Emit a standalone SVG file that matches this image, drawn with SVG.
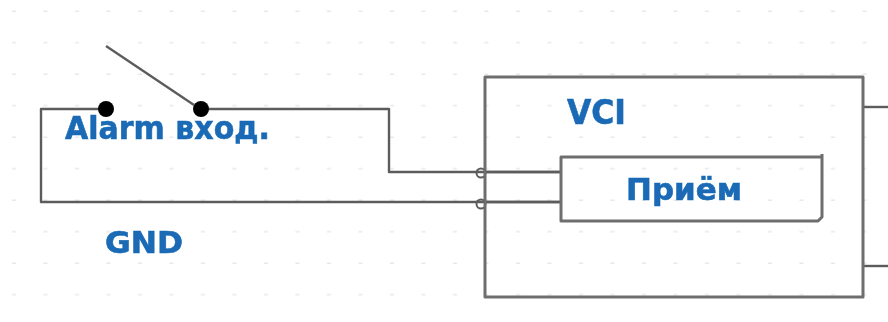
<svg xmlns="http://www.w3.org/2000/svg" width="888" height="322" viewBox="0 0 888 322">
<style>
.w{fill:none;stroke:#5c5c5c;stroke-width:2.4;stroke-linejoin:round}
.b{fill:none;stroke:#6e6e6e;stroke-width:3;stroke-linejoin:round}
.d{fill:#000}
.t{font-family:"DejaVu Sans",Verdana,sans-serif;font-weight:700;fill:#1a6bb5;stroke:#1a6bb5;stroke-width:0.6}
.g{fill:#e8e8e8}
</style>
<defs>
<pattern id="dots" width="31.5" height="31.5" patternUnits="userSpaceOnUse" x="0" y="12"><rect x="12" y="30" width="4" height="3" class="g"/></pattern>
<filter id="soft" x="-5%" y="-5%" width="110%" height="110%"><feGaussianBlur stdDeviation="0.7"/></filter>
</defs>
<rect width="888" height="322" fill="#fff"/>
<rect x="0" y="10" width="888" height="300" fill="url(#dots)"/>
<g filter="url(#soft)">
<g id="connectors">
<path class="w" d="M106 109H41V202H560"/>
<path class="w" d="M201 109H389V172H560"/>
<path class="w" d="M106 46L194 105"/>
<path class="w" d="M863 107H888"/>
<path class="w" d="M863 266H888"/>
<circle cx="481" cy="173" r="4.5" fill="#fff" stroke="#5c5c5c" stroke-width="2"/>
<circle cx="481" cy="204" r="4.5" fill="#fff" stroke="#5c5c5c" stroke-width="2"/>
<path class="w" d="M476 172H560M476 202H560"/>
</g>
<g id="vci"><rect class="b" x="485" y="77" width="378" height="220"/><text class="t" x="567" y="124" font-size="33" textLength="59" lengthAdjust="spacingAndGlyphs">VCI</text></g>
<g id="priem"><path class="b" d="M822 154V217L818 221H561V157H822"/><text class="t" x="626" y="200" font-size="31" textLength="116" lengthAdjust="spacingAndGlyphs">Приём</text></g>
<g id="switch-left"><circle class="d" cx="106" cy="109" r="8"/></g>
<g id="switch-right"><circle class="d" cx="201" cy="109" r="8"/></g>
<g id="alarm"><text class="t" x="65" y="139" font-size="32" textLength="205" lengthAdjust="spacingAndGlyphs">Alarm вход.</text></g>
<g id="gnd"><text class="t" x="105" y="253" font-size="31" textLength="78" lengthAdjust="spacingAndGlyphs">GND</text></g>
</g>
</svg>
